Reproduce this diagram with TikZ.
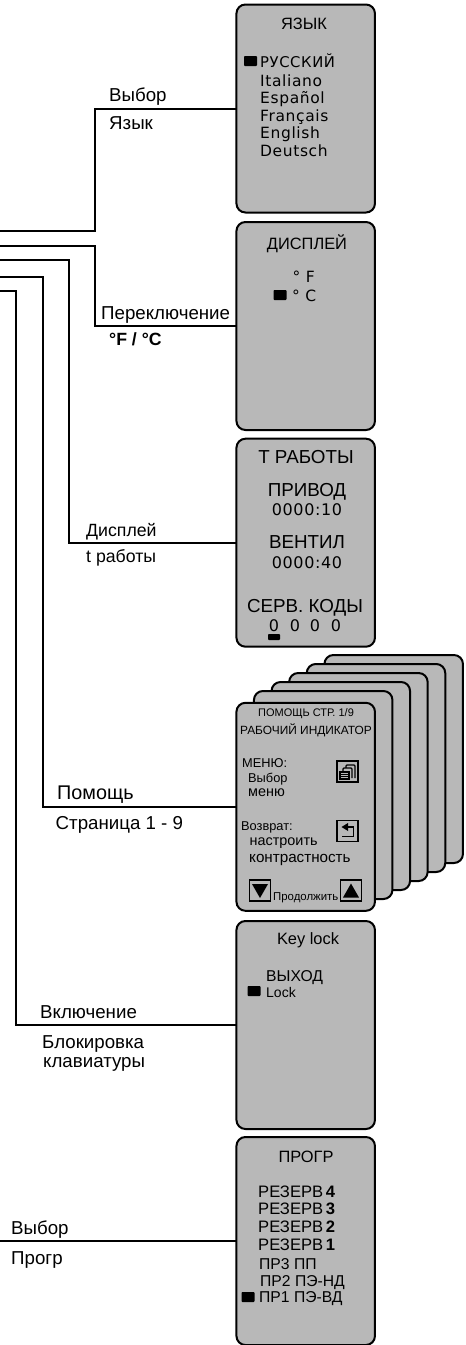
\documentclass[tikz,border=0pt]{standalone}
\usepackage{fontspec}
\setmainfont{Liberation Sans}
\newfontfamily\widefont[LetterSpace=4]{DejaVu Sans}
\definecolor{screengray}{HTML}{B8B8B8}
\tikzset{
    panel/.style={draw, line width=2pt, fill=screengray, rounded corners=9pt, minimum width=138.5pt, minimum height=208pt, outer sep=0pt},
    wire/.style={line width=2pt},
    marker/.style={fill=black, rounded corners=.8pt, inner sep=0pt, minimum width=13pt, minimum height=10pt},
    iconbox/.style={draw, line width=1.4pt, inner sep=0pt, minimum width=21pt, minimum height=21pt},
    lbl/.style={anchor=base west, inner sep=0pt, font=\fontsize{18.7}{18.7}\selectfont},
    slimlbl/.style={anchor=base west, inner sep=0pt, font=\fontsize{17.7}{17.7}\selectfont},
    biglbl/.style={anchor=base west, inner sep=0pt, font=\fontsize{19.8}{19.8}\selectfont},
    head/.style={anchor=base, inner sep=0pt, font=\fontsize{16.4}{16.4}\selectfont},
    bighead/.style={anchor=base, inner sep=0pt, font=\fontsize{18.8}{18.8}\selectfont},
    item/.style={anchor=base west, inner sep=0pt, font=\fontsize{15.7}{15.7}\selectfont},
    reserve/.style={anchor=base west, inner sep=0pt, font=\fontsize{16.6}{16.6}\selectfont},
    small/.style={anchor=base west, inner sep=0pt, font=\fontsize{12.8}{12.8}\selectfont},
    mid/.style={anchor=base west, inner sep=0pt, font=\fontsize{14.4}{14.4}\selectfont},
    wide/.style={anchor=base west, inner sep=0pt, font=\widefont\fontsize{15.5}{15.5}\selectfont},
    digits/.style={anchor=base, inner sep=0pt, font=\widefont\fontsize{16}{16}\selectfont}
}

\begin{document}
\begin{tikzpicture}[x=1pt, y=-1pt]
    \useasboundingbox (0, 0) rectangle (466, 1345);

    \node[panel] at (305.7, 108.5) (lang) {};
    \node[panel] at (305.7, 326) (disp) {};
    \node[panel] at (305.7, 542.7) (hours) {};
    \node[panel] at (393.7, 759) (card5) {};
    \node[panel] at (376, 768) (card4) {};
    \node[panel] at (358.4, 777) (card3) {};
    \node[panel] at (340.8, 786) (card2) {};
    \node[panel] at (323.2, 795) (card1) {};
    \node[panel] at (305.7, 806.8) (help) {};
    \node[panel] at (305.7, 1025) (lock) {};
    \node[panel] at (305.7, 1241) (prog) {};

    \coordinate (in1) at (0, 231);
    \coordinate (in2) at (0, 245.5);
    \coordinate (in3) at (0, 259.5);
    \coordinate (in4) at (0, 276.5);
    \coordinate (in5) at (0, 291);
    \coordinate (in6) at (0, 1241);
    \coordinate (bend1) at (95, 231);
    \coordinate (bend2) at (95, 245.5);
    \coordinate (bend3) at (69, 259.5);
    \coordinate (bend4) at (42.5, 276.5);
    \coordinate (bend5) at (16, 291);
    \draw[wire] (in1) -- (bend1) |- (lang.west);
    \draw[wire] (in2) -- (bend2) |- (disp.west);
    \draw[wire] (in3) -- (bend3) |- (hours.west);
    \draw[wire] (in4) -- (bend4) |- (help.west);
    \draw[wire] (in5) -- (bend5) |- (lock.west);
    \draw[wire] (in6) -- (prog.west);

    \node[lbl] at (109, 101) (choose) {Выбор};
    \node[lbl] at (109, 129.5) (langword) {Язык};
    \node[lbl] at (101, 319) (toggle) {Переключение};
    \node[slimlbl] at (109, 345.7) (units) {\textbf{°F / °C}};
    \node[slimlbl] at (86, 536) (showword) {Дисплей};
    \node[slimlbl] at (86, 562) (hoursword) {t работы};
    \node[biglbl] at (57, 799) (helpword) {Помощь};
    \node[lbl] at (55.5, 829) (pages) {Страница 1 - 9};
    \node[lbl] at (40, 1018) (enable) {Включение};
    \node[lbl] at (42, 1048) (keyblock) {Блокировка};
    \node[lbl] at (43, 1067) (keyboard) {клавиатуры};
    \node[lbl] at (11, 1234) (choosetwo) {Выбор};
    \node[lbl] at (11, 1264) (progword) {Прогр};

    \node[head] at (304, 29.3) (langhead) {ЯЗЫК};
    \node[marker] at (250.5, 61) (langmark) {};
    \node[wide, font=\widefont\fontsize{14.8}{14.8}\selectfont] at (260, 67) (ru) {РУССКИЙ};
    \node[wide] at (260, 86) (it) {Italiano};
    \node[wide] at (260, 103.5) (es) {Español};
    \node[wide] at (260, 121) (fr) {Français};
    \node[wide] at (260, 138.5) (en) {English};
    \node[wide] at (260, 156.5) (de) {Deutsch};

    \node[head] at (307, 249) (disphead) {ДИСПЛЕЙ};
    \node[wide] at (292.5, 282.7) (fahr) {° F};
    \node[marker] at (280, 295) (dispmark) {};
    \node[wide] at (292, 301) (cels) {° C};

    \node[bighead] at (306, 463) (hourshead) {Т РАБОТЫ};
    \node[bighead] at (307, 496.7) (drive) {ПРИВОД};
    \node[digits] at (307, 515.7) (drivetime) {0000:10};
    \node[bighead] at (307, 548) (fan) {ВЕНТИЛ};
    \node[digits] at (307, 568) (fantime) {0000:40};
    \node[bighead] at (305, 612.7) (codes) {СЕРВ. КОДЫ};
    \node[digits] at (274, 631) (dig1) {0};
    \node[digits] at (295, 631) (dig2) {0};
    \node[digits] at (315, 631) (dig3) {0};
    \node[digits] at (336, 631) (dig4) {0};
    \node[marker, minimum width=12pt, minimum height=6pt] at (274, 637) (digmark) {};

    \node[anchor=base, inner sep=0pt, font=\fontsize{11}{11}\selectfont] at (306, 716.7) (helphead) {ПОМОЩЬ СТР. 1/9};
    \node[anchor=base, inner sep=0pt, font=\fontsize{11.9}{11.9}\selectfont] at (306, 734) (helpsub) {РАБОЧИЙ ИНДИКАТОР};
    \node[small] at (242, 767) (menu) {МЕНЮ:};
    \node[small] at (248, 782) (menuone) {Выбор};
    \node[mid] at (248, 796.7) (menutwo) {меню};
    \node[small] at (241, 830) (back) {Возврат:};
    \node[mid] at (249.5, 845) (backone) {настроить};
    \node[mid, font=\fontsize{15.2}{15.2}\selectfont] at (249, 862) (backtwo) {контрастность};
    \node[anchor=base west, inner sep=0pt, font=\fontsize{11.4}{11.4}\selectfont] at (273, 900) (more) {Продолжить};

    \node[iconbox] at (347.5, 771.5) (menuicon) {};
    \draw[line width=1.1pt, rounded corners=1pt] (346, 778) -- (346, 765) -- (355, 765) -- (355, 778);
    \draw[line width=1.1pt, fill=screengray, rounded corners=1pt] (343, 778) -- (343, 768) -- (352, 768) -- (352, 778);
    \draw[line width=1.1pt, fill=screengray] (340, 772) rectangle (349, 779);
    \draw[line width=.9pt] (340, 774) -- (349, 774) (340, 776.5) -- (349, 776.5);

    \node[iconbox] at (347.5, 831) (backicon) {};
    \fill (341.5, 827) -- (348, 823) -- (348, 831) -- cycle;
    \draw[line width=1.1pt] (348, 827) -- (353.5, 827) -- (353.5, 836.5) -- (341.5, 836.5);

    \node[iconbox] at (260, 890.5) (downicon) {};
    \fill (252, 884) -- (268, 884) -- (260, 898) -- cycle;
    \node[iconbox] at (351, 890.5) (upicon) {};
    \fill (343, 897.5) -- (359, 897.5) -- (351, 883.5) -- cycle;

    \node[head] at (308, 944) (lockhead) {Key lock};
    \node[item] at (266, 981) (leave) {ВЫХОД};
    \node[marker] at (254, 991) (lockmark) {};
    \node[anchor=base west, inner sep=0pt, font=\fontsize{14}{14}\selectfont] at (266, 997) (lockword) {Lock};

    \node[head] at (306, 1162) (proghead) {ПРОГР};
    \node[reserve] at (258, 1197) (res4) {РЕЗЕРВ\,\textbf{4}};
    \node[reserve] at (258, 1214.7) (res3) {РЕЗЕРВ\,\textbf{3}};
    \node[reserve] at (258, 1232) (res2) {РЕЗЕРВ\,\textbf{2}};
    \node[reserve] at (258, 1250) (res1) {РЕЗЕРВ\,\textbf{1}};
    \node[item] at (259, 1269) (pr3) {ПР3 ПП};
    \node[item] at (260, 1286) (pr2) {ПР2 ПЭ-НД};
    \node[marker] at (248, 1297) (progmark) {};
    \node[item] at (259, 1302.7) (pr1) {ПР1 ПЭ-ВД};
\end{tikzpicture}
\end{document}
